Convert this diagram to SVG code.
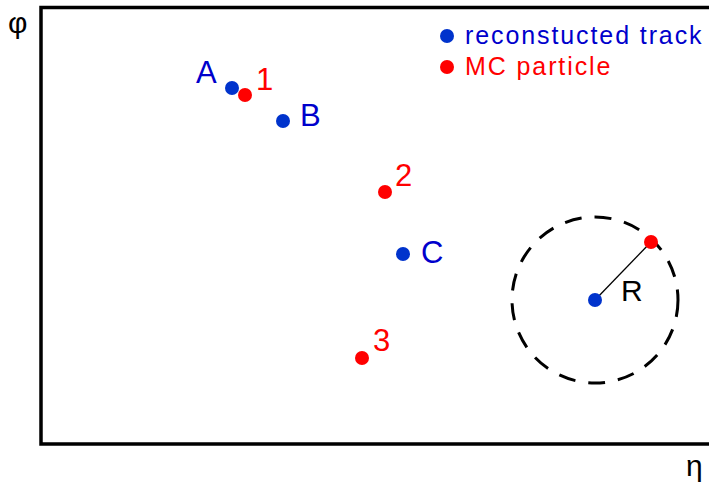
<svg xmlns="http://www.w3.org/2000/svg" width="709" height="482" viewBox="0 0 709 482">
<style>
.frame{fill:none;stroke:#000;stroke-width:3.5}
.b{fill:#0033cc}
.r{fill:#ff0000}
.lb{font-family:"Liberation Sans",Arial,sans-serif;font-size:31px;fill:#0000cc}
.lr{font-family:"Liberation Sans",Arial,sans-serif;font-size:31px;fill:#ff0000}
.lg{font-family:"Liberation Sans",Arial,sans-serif;font-size:25px;letter-spacing:1.9px}
.ax{font-family:"Liberation Sans",Arial,sans-serif;font-size:30px;fill:#000}
</style>
<rect width="709" height="482" fill="#fff"/>
<path class="frame" d="M711,7.5 H41 V444 H711"/>
<text class="ax" x="8" y="33">φ</text>
<text class="ax" x="686" y="476">η</text>
<g id="connectors">
<circle cx="595" cy="300" r="83" fill="none" stroke="#000" stroke-width="3" stroke-dasharray="17,13"/>
<line x1="595" y1="300" x2="651" y2="242" stroke="#000" stroke-width="1.3"/>
</g>
<g id="A"><circle class="b" cx="232" cy="88" r="7"/><text class="lb" x="196" y="83">A</text></g>
<g id="p1"><circle class="r" cx="245" cy="95" r="7"/><text class="lr" x="256" y="90">1</text></g>
<g id="B"><circle class="b" cx="283" cy="121" r="7"/><text class="lb" x="300" y="126">B</text></g>
<g id="p2"><circle class="r" cx="385" cy="192" r="7"/><text class="lr" x="395" y="186">2</text></g>
<g id="C"><circle class="b" cx="403" cy="254" r="7"/><text class="lb" x="421" y="263">C</text></g>
<g id="p3"><circle class="r" cx="362" cy="358" r="7"/><text class="lr" x="373" y="351">3</text></g>
<g id="track"><circle class="b" cx="595" cy="300" r="7"/></g>
<g id="particle"><circle class="r" cx="651" cy="242" r="7"/></g>
<text class="ax" x="621" y="301">R</text>
<g id="legend">
<circle class="b" cx="447" cy="36" r="7"/>
<text class="lg" x="465" y="44" fill="#0000cc">reconstucted track</text>
<circle class="r" cx="447" cy="67" r="7"/>
<text class="lg" x="465" y="75" fill="#ff0000">MC particle</text>
</g>
</svg>
